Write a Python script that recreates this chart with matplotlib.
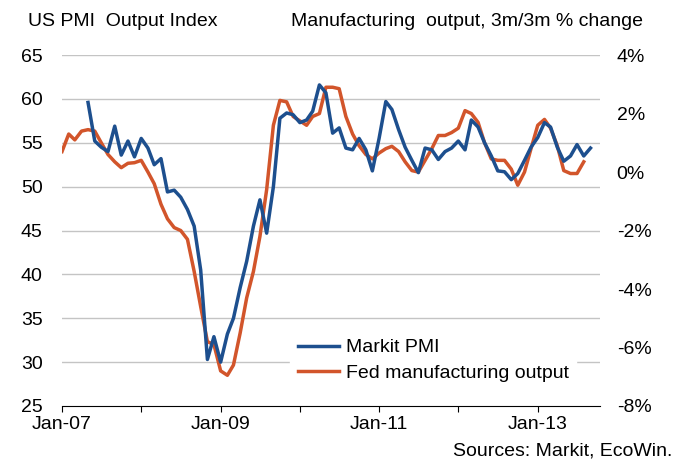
# 美国PMI产出指数 vs 联储制造业产出（3m/3m %变化）

import numpy as np
import pandas as pd
import matplotlib
matplotlib.use('Agg')
import matplotlib.pyplot as plt

plt.rcParams['font.family'] = ['Liberation Sans', 'DejaVu Sans']

# 1.数据：Markit PMI（左轴，2007年5月起）
pmi_start = '2007-05-01'
pmi = [59.6, 55.2, 54.5, 54.0, 56.9, 53.6, 55.2, 53.4,
       55.5, 54.4, 52.5, 53.2, 49.4, 49.6, 48.8, 47.4, 45.5, 40.5, 30.3, 32.9,
       30.0, 33.2, 35.0, 38.5, 41.5, 45.5, 48.5, 44.7, 50.0, 57.8, 58.4, 58.2,
       57.3, 57.6, 58.6, 61.6, 60.7, 56.1, 56.7, 54.4, 54.2, 55.5, 54.2, 51.8,
       55.5, 59.7, 58.8, 56.5, 54.5, 53.0, 51.6, 54.4, 54.2, 53.1, 54.0, 54.4,
       55.2, 54.2, 57.6, 56.8, 55.0, 53.5, 51.8, 51.7, 50.8, 51.5, 53.0, 54.5,
       55.6, 57.3, 56.8, 54.5, 52.9, 53.5, 54.8, 53.5, 54.4]

# 联储制造业产出 3m/3m %（右轴，2007年1月起）
fed_start = '2007-01-01'
fed = [0.7, 1.3, 1.1, 1.4, 1.45, 1.4, 1.0, 0.6, 0.35, 0.15, 0.3, 0.32,
       0.4, 0.0, -0.4, -1.1, -1.6, -1.9, -2.0, -2.3, -3.4, -4.6, -5.8, -5.9,
       -6.8, -6.95, -6.6, -5.5, -4.3, -3.4, -2.2, -0.6, 1.6, 2.45, 2.4, 1.9,
       1.75, 1.6, 1.9, 2.0, 2.9, 2.9, 2.85, 1.9, 1.3, 0.9, 0.6, 0.45,
       0.65, 0.8, 0.88, 0.7, 0.35, 0.05, 0.0, 0.4, 0.8, 1.25, 1.25, 1.35,
       1.5, 2.1, 2.0, 1.7, 1.0, 0.45, 0.4, 0.4, 0.1, -0.45, 0.0, 0.8,
       1.6, 1.8, 1.5, 0.9, 0.05, -0.05, -0.05, 0.35]

pmi_dates = pd.date_range(pmi_start, periods=len(pmi), freq='MS')
fed_dates = pd.date_range(fed_start, periods=len(fed), freq='MS')

blue = '#1d4f8e'
red = '#d2552b'
fs = 14

# 2.画布与坐标轴（左轴 25~65，右轴 -8%~4%）
fig = plt.figure(figsize=(6.79, 4.59), dpi=100)
ax = fig.add_axes([0.0913, 0.1155, 0.7924, 0.7645])
ax2 = ax.twinx()

ax.set_ylim(25, 65)
ax.set_yticks(range(25, 66, 5))
ax2.set_ylim(-8, 4)
ax2.set_yticks(range(-8, 5, 2))
ax2.set_yticklabels(['%d%%' % v for v in range(-8, 5, 2)])

for y in range(30, 66, 5):
    ax.axhline(y, color='#c4c4c4', lw=1.0, zorder=0)

# 3.曲线：PMI 按左轴刻度换算到右轴坐标上画，保证图层顺序
to_right = lambda v: (np.asarray(v) - 25) * 12 / 40 - 8
l1, = ax2.plot(pmi_dates, to_right(pmi), color=blue, lw=2.5,
               label='Markit PMI', zorder=3)
l2, = ax2.plot(fed_dates, fed, color=red, lw=2.5,
               label='Fed manufacturing output', zorder=2)

ax.set_xlim(pd.Timestamp('2007-01-01'), pd.Timestamp('2013-10-15'))
ticks = pd.date_range('2007-01-01', '2013-01-01', freq='YS')
ax.set_xticks(ticks)
ax.set_xticklabels([d.strftime('Jan-%y') if d.year % 2 == 1 else ''
                    for d in ticks])

for a in (ax, ax2):
    for s in ('top', 'left', 'right'):
        a.spines[s].set_visible(False)
ax2.spines['bottom'].set_visible(False)
ax.spines['bottom'].set_color('black')
ax.tick_params(axis='y', length=0, labelsize=fs, pad=14)
ax2.tick_params(axis='y', length=0, labelsize=fs, pad=12)
ax.tick_params(axis='x', length=4, direction='out', labelsize=fs, pad=3)

leg = ax2.legend(handles=[l1, l2], loc='lower left',
                 bbox_to_anchor=(0.424, 0.047), frameon=True, fontsize=fs,
                 handlelength=2.1, handletextpad=0.35, labelspacing=0.4,
                 borderpad=0.4, borderaxespad=0)
leg.get_frame().set_edgecolor('white')
leg.get_frame().set_facecolor('white')
leg.get_frame().set_alpha(1)

# 4.文字
fig.text(28 / 679, 1 - 22 / 459, 'US PMI  Output Index', fontsize=fs,
         ha='left', va='center')
fig.text(643 / 679, 1 - 22 / 459, 'Manufacturing  output, 3m/3m % change',
         fontsize=fs, ha='right', va='center')
fig.text(672 / 679, 1 - 451 / 459, 'Sources: Markit, EcoWin.', fontsize=fs,
         ha='right', va='center')

plt.savefig('out.png', dpi=100)
